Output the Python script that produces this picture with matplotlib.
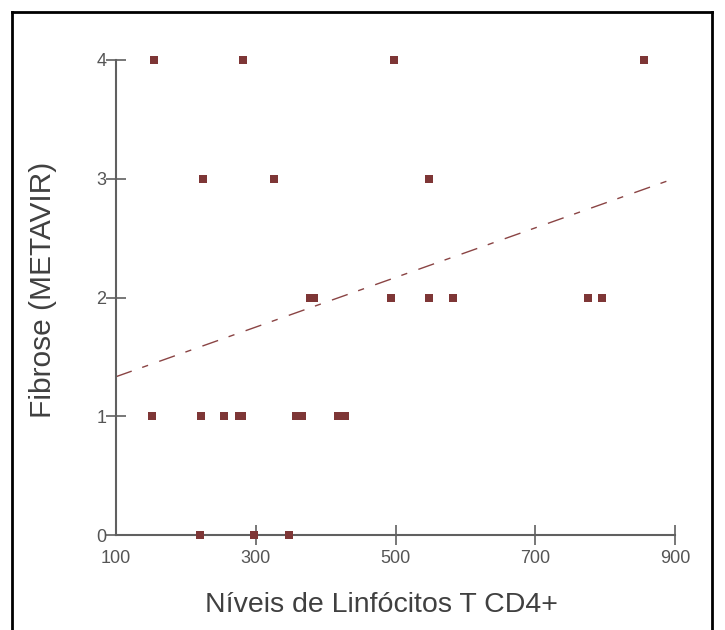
import matplotlib
matplotlib.use("Agg")
import matplotlib.pyplot as plt
from matplotlib.lines import Line2D

# Data
cd4 = [154, 282, 498, 855,
       224, 326, 548,
       377, 383, 494, 548, 583, 776, 795,
       152, 222, 255, 276, 281, 358, 366, 417, 428,
       220, 298, 347]
fibrose = [4, 4, 4, 4,
           3, 3, 3,
           2, 2, 2, 2, 2, 2, 2,
           1, 1, 1, 1, 1, 1, 1, 1, 1,
           0, 0, 0]
trend_x = [100, 898]
trend_y = [1.333, 3.0]
xticklabels_all = [100, 300, 500, 700, 900]
yticks = [0, 1, 2, 3, 4]

plt.rcParams['font.family'] = ['Liberation Sans', 'DejaVu Sans']

fig = plt.figure(figsize=(7.25, 6.3), dpi=100)
ax = fig.add_axes([116/725, 1-535/630, (675-116)/725, (535-60)/630])

mcol = '#7e3636'
ax.plot(trend_x, trend_y, color='#8a4444', lw=1.0,
        linestyle=(0, (12, 8, 4.5, 8.5)), zorder=2, clip_on=False)
ax.plot(cd4, fibrose, linestyle='none', marker='s', markersize=5.8,
        color=mcol, markeredgewidth=0, zorder=3, clip_on=False)

ax.set_xlim(100, 900)
ax.set_ylim(0, 4)
for s in ['top', 'right']:
    ax.spines[s].set_visible(False)
for s in ['left', 'bottom']:
    ax.spines[s].set_color('#606060')
    ax.spines[s].set_linewidth(1.5)

ax.set_xticks(xticklabels_all)
ax.set_xticklabels([str(v) for v in xticklabels_all])
ax.set_yticks(yticks)
ax.set_yticklabels([str(v) for v in yticks])
ax.tick_params(axis='both', direction='inout', length=14, width=1.2,
               color='#606060', labelcolor='#555555', labelsize=13)
ax.tick_params(axis='x', pad=3.5)
ax.tick_params(axis='y', pad=0)
ax.xaxis.get_major_ticks()[0].tick1line.set_visible(False)

ax.set_xlabel('Níveis de Linfócitos T CD4+', fontsize=20.5, color='#404040',
              va='center', ha='center')
ax.set_ylabel('Fibrose (METAVIR)', fontsize=21.5, color='#404040',
              va='center', ha='center')
ax.xaxis.set_label_coords((381.5-116)/559, (535-605)/475)
ax.yaxis.set_label_coords((43-116)/559, (535-290)/475)

# outer black frame (open at bottom)
fig.add_artist(Line2D([12/725, 12/725], [0, 1-12/630], transform=fig.transFigure,
                      color='black', lw=2))
fig.add_artist(Line2D([12/725, 712/725], [1-12/630, 1-12/630], transform=fig.transFigure,
                      color='black', lw=2))
fig.add_artist(Line2D([712/725, 712/725], [0, 1-12/630], transform=fig.transFigure,
                      color='black', lw=2))

fig.savefig('out.png', dpi=100)
